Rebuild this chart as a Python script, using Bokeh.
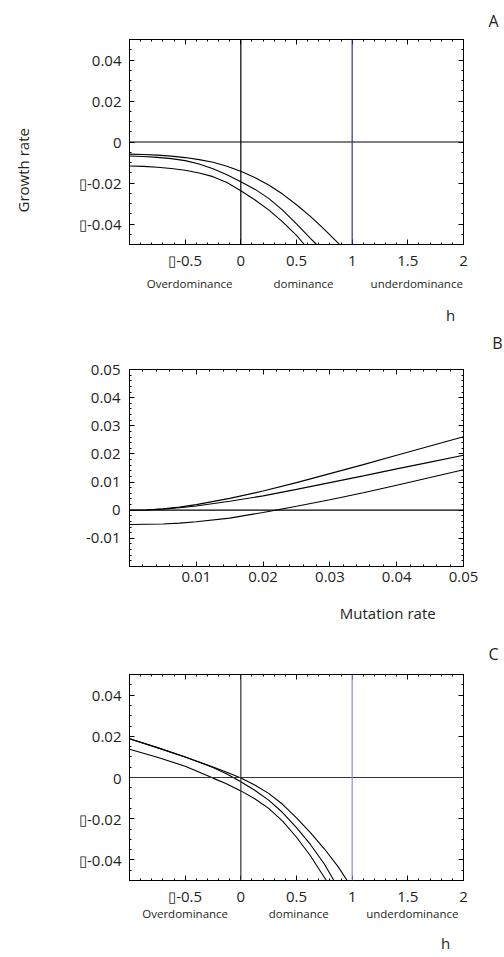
import numpy as np
from bokeh.plotting import figure
from bokeh.models import LinearAxis, FixedTicker, Span, Range1d, Title
from bokeh.layouts import column
from bokeh.embed import file_html
from bokeh.resources import INLINE

FONT = "Open Sans"
TXT = "#231f20"

# ---------------- Panel A data (growth rate vs h) ----------------
a1_h = [-1, -0.875, -0.75, -0.625, -0.5, -0.375, -0.25, -0.125, 0, 0.125, 0.25, 0.375, 0.5,
        0.625, 0.75, 0.875, 0.885]
a1_y = [-0.0059, -0.0061, -0.0064, -0.0069, -0.0076, -0.0086, -0.0099, -0.0118, -0.0143,
        -0.0173, -0.0210, -0.0254, -0.0306, -0.0363, -0.0426, -0.0493, -0.0500]
a2_h = [-1, -0.875, -0.75, -0.625, -0.5, -0.375, -0.25, -0.125, 0, 0.125, 0.25, 0.375, 0.5,
        0.625, 0.68]
a2_y = [-0.0068, -0.0071, -0.0075, -0.0081, -0.0091, -0.0107, -0.0130, -0.0160, -0.0194,
        -0.0230, -0.0275, -0.0332, -0.0399, -0.0470, -0.0500]
a3_h = [-1, -0.875, -0.75, -0.625, -0.5, -0.375, -0.25, -0.125, 0, 0.125, 0.25, 0.375, 0.5,
        0.57]
a3_y = [-0.0117, -0.0119, -0.0123, -0.0129, -0.0138, -0.0151, -0.0169, -0.0198, -0.0238,
        -0.0282, -0.0331, -0.0390, -0.0456, -0.0500]

# ---------------- Panel B data (growth rate vs mutation rate) ----------------
b_mu = [0, 0.0025, 0.005, 0.0075, 0.01, 0.015, 0.02, 0.025, 0.03, 0.035, 0.04, 0.045, 0.05]
b1_y = [0, 0.0001, 0.0005, 0.0011, 0.0020, 0.0042, 0.0068, 0.0098, 0.0130, 0.0162, 0.0195,
        0.0228, 0.0261]
b2_y = [0, 0.0001, 0.0004, 0.0009, 0.0015, 0.0032, 0.0051, 0.0074, 0.0098, 0.0122, 0.0147,
        0.0171, 0.0195]
b3_y = [-0.0051, -0.0050, -0.0049, -0.0046, -0.0041, -0.0028, -0.0008, 0.0014, 0.0037,
        0.0062, 0.0089, 0.0116, 0.0144]

# ---------------- Panel C data (growth rate vs h) ----------------
c1_h = [-1, -0.75, -0.5, -0.25, -0.125, 0, 0.125, 0.25, 0.375, 0.5, 0.625, 0.75, 0.875, 0.955]
c1_y = [0.0188, 0.0145, 0.0100, 0.0051, 0.0026, -0.0002, -0.0036, -0.0077, -0.0130, -0.0196,
        -0.0268, -0.0346, -0.0434, -0.0500]
c2_h = [-1, -0.75, -0.5, -0.25, -0.125, 0, 0.125, 0.25, 0.375, 0.5, 0.625, 0.75, 0.836]
c2_y = [0.0188, 0.0145, 0.0100, 0.0049, 0.0017, -0.0021, -0.0062, -0.0110, -0.0170, -0.0243,
        -0.0325, -0.0420, -0.0500]
c3_h = [-1, -0.75, -0.5, -0.25, -0.125, 0, 0.125, 0.25, 0.375, 0.5, 0.625, 0.768]
c3_y = [0.0137, 0.0098, 0.0055, -0.0003, -0.0031, -0.0065, -0.0103, -0.0150, -0.0212,
        -0.0290, -0.0380, -0.0500]

# ---------------- ticks and labels ----------------
h_ticks = [-0.5, 0, 0.5, 1, 1.5, 2]
h_tick_labels = ["\u25af-0.5", "0", "0.5", "1", "1.5", "2"]
ah_ticks = [-0.04, -0.02, 0, 0.02, 0.04]
ah_tick_labels = ["\u25af-0.04", "\u25af-0.02", "0", "0.02", "0.04"]
mu_ticks = [0.01, 0.02, 0.03, 0.04, 0.05]
mu_tick_labels = ["0.01", "0.02", "0.03", "0.04", "0.05"]
b_ticks = [-0.01, 0, 0.01, 0.02, 0.03, 0.04, 0.05]
b_tick_labels = ["-0.01", "0", "0.01", "0.02", "0.03", "0.04", "0.05"]
dom_names = ["Overdominance", "dominance", "underdominance"]
dom_pos_a = [-0.46, 0.5625, 1.58]
dom_pos_c = [-0.50, 0.52, 1.54]
h_name = "h"
h_pos_a = 1.884
h_pos_c = 1.839
mu_name = "Mutation rate"
mu_name_pos = 0.03866
gr_name = "Growth rate"
gr_name_pos = -0.0138

h_minor = [round(v, 2) for v in np.arange(-1.0, 2.0001, 0.1)]
ah_minor = [round(v, 4) for v in np.arange(-0.05, 0.0501, 0.005)]
mu_minor = [round(v, 4) for v in np.arange(0.0, 0.0501, 0.002)]
b_minor = [round(v, 4) for v in np.arange(-0.02, 0.0501, 0.002)]


def style_axis(ax, ticks, labels, minor, show_labels=True, size="15px", standoff=5):
    ax.ticker = FixedTicker(ticks=ticks, minor_ticks=minor)
    ax.major_tick_in = 5
    ax.major_tick_out = 0
    ax.minor_tick_in = 2
    ax.minor_tick_out = 0
    ax.axis_line_color = "black"
    ax.major_tick_line_color = "black"
    ax.minor_tick_line_color = "black"
    ax.major_label_text_font = FONT
    ax.major_label_text_color = TXT
    ax.major_label_text_font_size = size
    if show_labels:
        ax.major_label_overrides = dict(zip(ticks, labels))
        ax.major_label_standoff = standoff
    else:
        ax.major_label_overrides = {t: "" for t in ticks}
        ax.major_label_standoff = 0


def text_axis(positions, names, size, standoff, orientation="horizontal"):
    return LinearAxis(ticker=FixedTicker(ticks=positions, minor_ticks=[]),
                      major_label_overrides=dict(zip(positions, names)),
                      axis_line_color=None, major_tick_line_color=None,
                      minor_tick_line_color=None, major_tick_in=0, major_tick_out=0,
                      minor_tick_in=0, minor_tick_out=0, major_label_standoff=standoff,
                      major_label_orientation=orientation,
                      major_label_text_font=FONT, major_label_text_font_size=size,
                      major_label_text_color=TXT)


def make_fig(w, h, left, right, top, bottom, xr, yr):
    p = figure(width=w, height=h, x_range=Range1d(*xr), y_range=Range1d(*yr),
               output_backend="svg", toolbar_location=None,
               min_border_left=left, min_border_right=right,
               min_border_top=top, min_border_bottom=bottom)
    p.xgrid.visible = False
    p.ygrid.visible = False
    p.outline_line_color = "black"
    p.outline_line_width = 1
    p.background_fill_color = "white"
    p.border_fill_color = "white"
    return p


def add_title(p, text, place, size, align="right", offset=0, standoff=10):
    p.add_layout(Title(text=text, align=align, offset=offset, standoff=standoff,
                       text_font=FONT, text_font_size=size, text_font_style="normal",
                       text_color=TXT), place)


def mirror_axes(p, xt, xl, xm, yt, yl, ym):
    top_ax = LinearAxis()
    style_axis(top_ax, xt, xl, xm, show_labels=False)
    p.add_layout(top_ax, "above")
    right_ax = LinearAxis()
    style_axis(right_ax, yt, yl, ym, show_labels=False)
    p.add_layout(right_ax, "right")


def h_panel(w, h, left, right, top, bottom, curves, dom_pos, cat_standoff, h_pos, h_standoff,
            blue, zero_color):
    p = make_fig(w, h, left, right, top, bottom, (-1, 2), (-0.05, 0.05))
    style_axis(p.xaxis[0], h_ticks, h_tick_labels, h_minor)
    style_axis(p.yaxis[0], ah_ticks, ah_tick_labels, ah_minor, standoff=8)
    mirror_axes(p, h_ticks, h_tick_labels, h_minor, ah_ticks, ah_tick_labels, ah_minor)
    p.add_layout(text_axis(dom_pos, dom_names, "11.5px", cat_standoff), "below")
    p.add_layout(text_axis([h_pos], [h_name], "15px", h_standoff), "below")
    p.add_layout(Span(location=0, dimension="width", line_color=zero_color, line_width=1.2))
    p.add_layout(Span(location=0, dimension="height", line_color=zero_color, line_width=1.2))
    p.add_layout(Span(location=1, dimension="height", line_color=blue, line_width=1.2))
    for hx, hy in curves:
        p.line(hx, hy, line_color="black", line_width=1.1)
    return p


# Panel A  (canvas rows 0..355; frame 37..244)
pA = h_panel(504, 355, 126, 41, 37, 111,
             [(a1_h, a1_y), (a2_h, a2_y), (a3_h, a3_y)],
             dom_pos_a, 3, h_pos_a, 11, "#2e2e9c", "black")
pA.add_layout(text_axis([gr_name_pos], [gr_name], "15px", 43, orientation="vertical"), "left")
add_title(pA, "A", "above", "16px", offset=-35, standoff=15)
add_title(pA, "B", "below", "16px", offset=-39, standoff=4)

# Panel B  (canvas rows 355..630; frame 369..566)
pB = make_fig(504, 275, 128, 41, 14, 64, (0, 0.05), (-0.02, 0.05))
style_axis(pB.xaxis[0], mu_ticks, mu_tick_labels, mu_minor)
style_axis(pB.yaxis[0], b_ticks, b_tick_labels, b_minor, standoff=9)
mirror_axes(pB, mu_ticks, mu_tick_labels, mu_minor, b_ticks, b_tick_labels, b_minor)
pB.add_layout(text_axis([mu_name_pos], [mu_name], "15px", 18), "below")
pB.add_layout(Span(location=0, dimension="width", line_color="black", line_width=1.2))
for yy in (b1_y, b2_y, b3_y):
    pB.line(b_mu, yy, line_color="black", line_width=1.1)

# Panel C  (canvas rows 630..957; frame 672..880)
pC = h_panel(504, 327, 129, 38, 42, 77,
             [(c1_h, c1_y), (c2_h, c2_y), (c3_h, c3_y)],
             dom_pos_c, -3, h_pos_c, 9, "#8a8ad8", "#333333")
add_title(pC, "C", "above", "16px", offset=-35, standoff=20)

layout = column(pA, pB, pC, spacing=0)
open("out.html", "w").write(file_html(layout, INLINE))
